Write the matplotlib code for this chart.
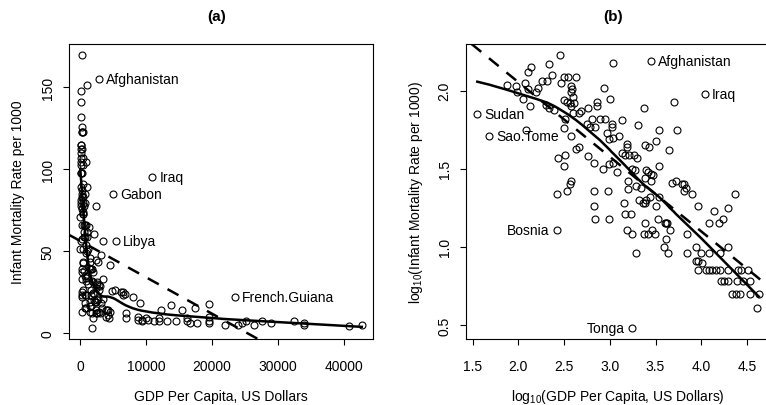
import numpy as np
import matplotlib
matplotlib.use("Agg")
import matplotlib.pyplot as plt

plt.rcParams['font.family'] = ['Liberation Sans', 'DejaVu Sans']
plt.rcParams['mathtext.fontset'] = 'custom'
plt.rcParams['mathtext.rm'] = 'Liberation Sans'
plt.rcParams['mathtext.it'] = 'Liberation Sans:italic'

# data: log10 GDP per capita and log10 infant mortality
# labelled countries come first
labelled = ["Afghanistan", "Iraq", "Gabon", "Libya", "French.Guiana",
            "Sudan", "Sao.Tome", "Bosnia", "Tonga"]
log_gdp = [3.45, 4.04, 3.70, 3.74, 4.37, 1.55, 1.68, 2.42, 3.24,
           2.46, 2.34, 2.14, 2.11, 2.37, 2.26, 2.31, 2.07, 1.88, 1.97,
           2.21, 2.10, 1.98, 2.19, 2.05, 2.13, 2.30, 2.33, 2.39, 2.47,
           2.50, 2.54, 2.63, 2.58, 2.59, 2.57, 2.60, 2.50, 2.53, 2.56,
           2.58, 2.61, 2.51, 2.50, 2.51, 2.50, 2.43, 2.42, 2.53, 2.56,
           2.58, 2.58, 2.60, 2.63, 2.66, 2.66, 2.69, 2.76, 2.75, 2.78,
           2.80, 2.84, 2.86, 2.86, 2.89, 2.95, 2.94, 3.00, 2.97, 2.99,
           3.02, 3.02, 3.03, 3.04, 2.76, 2.83, 2.93, 2.99, 3.04, 3.08,
           3.10, 3.13, 3.19, 3.19, 3.13, 3.17, 3.21, 3.27, 3.30, 3.31,
           3.37, 3.34, 3.39, 3.40, 3.42, 3.45, 3.47, 3.39, 3.43, 3.50,
           3.54, 3.54, 3.65, 3.68, 3.72, 3.79, 3.81, 3.83, 3.81, 3.90,
           3.96, 4.09, 4.14, 4.19, 4.24, 4.29, 4.29, 3.84, 3.84, 3.94,
           4.00, 3.97, 3.94, 4.01, 3.97, 4.05, 4.08, 4.12, 4.16, 4.21,
           4.29, 4.40, 4.44, 4.51, 4.08, 4.21, 4.22, 4.25, 4.29, 4.39,
           4.46, 4.53, 4.34, 4.38, 4.42, 4.53, 4.63, 4.61, 2.83, 2.83,
           2.84, 2.99, 2.98, 3.16, 3.17, 3.23, 3.20, 3.20, 3.19, 3.24,
           3.29, 3.32, 3.36, 3.38, 3.40, 3.39, 3.37, 3.42, 3.46, 3.49,
           3.50, 3.53, 3.54, 3.60, 3.61, 3.63, 3.66, 3.62, 3.59, 3.64,
           3.24, 3.28, 3.44, 3.29, 3.45, 2.08]
log_imr = [2.19, 1.98, 1.93, 1.75, 1.34, 1.85, 1.71, 1.11, 0.48,
           2.23, 2.17, 2.15, 2.12, 2.10, 2.06, 2.06, 2.05, 2.04, 2.03,
           2.02, 2.01, 1.99, 1.99, 1.95, 1.90, 1.91, 1.89, 1.88, 2.05,
           2.09, 2.09, 2.09, 2.03, 2.01, 1.99, 1.96, 1.94, 1.93, 1.92,
           1.90, 1.92, 1.82, 1.76, 1.59, 1.52, 1.57, 1.34, 1.36, 1.40,
           1.42, 1.71, 1.86, 1.63, 1.64, 1.86, 1.87, 1.89, 1.79, 1.77,
           1.82, 1.77, 1.93, 1.90, 1.82, 1.82, 2.02, 1.95, 1.73, 1.69,
           1.77, 1.79, 1.70, 2.18, 1.58, 1.54, 1.50, 1.53, 1.54, 1.48,
           1.71, 1.81, 1.66, 1.64, 1.60, 1.59, 1.59, 1.59, 1.57, 1.78,
           1.89, 1.38, 1.44, 1.49, 1.48, 1.47, 1.46, 1.65, 1.64, 1.68,
           1.75, 1.52, 1.62, 1.41, 1.42, 1.40, 1.40, 1.38, 1.36, 1.34,
           1.26, 1.15, 1.23, 1.15, 1.18, 1.25, 1.00, 1.08, 0.96, 1.00,
           0.96, 0.91, 0.91, 0.90, 0.85, 0.85, 0.85, 0.85, 0.85, 0.85,
           0.85, 0.85, 0.85, 0.85, 0.96, 0.96, 0.78, 0.78, 0.78, 0.78,
           0.78, 0.78, 0.70, 0.70, 0.70, 0.70, 0.70, 0.61, 1.36, 1.26,
           1.18, 1.18, 1.36, 1.28, 1.21, 1.21, 1.42, 1.37, 1.11, 1.08,
           0.96, 1.30, 1.28, 1.28, 1.30, 1.15, 1.08, 1.08, 1.11, 1.08,
           1.26, 1.18, 1.32, 1.15, 1.15, 1.15, 1.11, 1.05, 1.00, 0.96,
           1.50, 1.49, 1.32, 1.39, 1.42, 1.75]

labels_a = ["Afghanistan", "Iraq", "Gabon", "Libya", "French.Guiana"]
labels_b_right = ["Afghanistan", "Iraq", "Sudan", "Sao.Tome"]
labels_b_left = ["Bosnia", "Tonga"]

lx = np.array(log_gdp)
ly = np.array(log_imr)
gdp = 10 ** lx
imr = 10 ** ly


def lowess(x, y, f=2/3, iters=3):
    # plain R-style lowess (local linear, tricube, bisquare robustness)
    order = np.argsort(x)
    x = x[order]
    y = y[order]
    n = len(x)
    r = int(np.ceil(f * n))
    rob = np.ones(n)
    fit = np.zeros(n)
    for it in range(iters + 1):
        for i in range(n):
            d = np.abs(x - x[i])
            h = max(np.sort(d)[r - 1], 1e-12)
            u = np.clip(d / h, 0, 1)
            w = (1 - u ** 3) ** 3 * rob
            sw = w.sum()
            xm = (w * x).sum() / sw
            ym = (w * y).sum() / sw
            sxx = (w * (x - xm) ** 2).sum()
            if sxx > 1e-12:
                b = (w * (x - xm) * (y - ym)).sum() / sxx
            else:
                b = 0
            fit[i] = ym + b * (x[i] - xm)
        res = y - fit
        s = np.median(np.abs(res))
        rob = np.clip(1 - (res / (6 * s)) ** 2, 0, 1) ** 2
    return x, fit


def r_lims(v):
    lo, hi = v.min(), v.max()
    pad = 0.04 * (hi - lo)
    return lo - pad, hi + pad


pt = dict(marker='o', linestyle='none', mfc='none', mec='black', ms=5, mew=0.8)

fig = plt.figure(figsize=(7.66, 4.06), dpi=100)
ax1 = fig.add_axes([0.0901, 0.1626, 0.3969, 0.7266])
ax2 = fig.add_axes([0.6084, 0.1626, 0.3969, 0.7266])

# panel (a)
ax1.plot(gdp, imr, **pt)
m, b = np.polyfit(gdp, imr, 1)
ax1.axline((0, b), slope=m, color='black', lw=1.8, linestyle=(0, (5, 4)))
sx, sy = lowess(gdp, imr, f=0.5)
ax1.plot(sx, sy, color='black', lw=1.8)
for name in labels_a:
    i = labelled.index(name)
    ax1.annotate(name, (gdp[i], imr[i]), xytext=(5, 0), textcoords='offset points',
                 ha='left', va='center', fontsize=10)
ax1.set_xlim(r_lims(gdp))
ax1.set_ylim(r_lims(imr))
ax1.set_xticks([0, 10000, 20000, 30000, 40000])
ax1.set_yticks([0, 50, 100, 150])
ax1.set_xlabel("GDP Per Capita, US Dollars", fontsize=10)
ax1.set_ylabel("Infant Mortality Rate per 1000", fontsize=10)
ax1.xaxis.set_label_coords(0.5, -0.193)
ax1.yaxis.set_label_coords(-0.168, 0.5)
ax1.text(0.485, 1.095, "(a)", transform=ax1.transAxes, ha='center', va='center',
         fontsize=11, fontweight='bold')

# panel (b)
ax2.plot(lx, ly, **pt)
m2, b2 = np.polyfit(lx, ly, 1)
ax2.axline((0, b2), slope=m2, color='black', lw=1.8, linestyle=(0, (5, 4)))
sx2, sy2 = lowess(lx, ly, f=0.5)
ax2.plot(sx2, sy2, color='black', lw=1.8)
for name in labels_b_right:
    i = labelled.index(name)
    ax2.annotate(name, (lx[i], ly[i]), xytext=(5, 0), textcoords='offset points',
                 ha='left', va='center', fontsize=10)
for name in labels_b_left:
    i = labelled.index(name)
    ax2.annotate(name, (lx[i], ly[i]), xytext=(-5, 0), textcoords='offset points',
                 ha='right', va='center', fontsize=10)
ax2.set_xlim(r_lims(lx))
ax2.set_ylim(r_lims(ly))
ax2.set_xticks([1.5, 2.0, 2.5, 3.0, 3.5, 4.0, 4.5])
ax2.set_yticks([0.5, 1.0, 1.5, 2.0])
ax2.set_xlabel(r"log$_{10}$(GDP Per Capita, US Dollars)", fontsize=10)
ax2.set_ylabel(r"log$_{10}$(Infant Mortality Rate per 1000)", fontsize=10)
ax2.xaxis.set_label_coords(0.5, -0.193)
ax2.yaxis.set_label_coords(-0.164, 0.5)
ax2.text(0.485, 1.095, "(b)", transform=ax2.transAxes, ha='center', va='center',
         fontsize=11, fontweight='bold')

for ax in (ax1, ax2):
    ax.xaxis.label.set_verticalalignment('center')
    ax.yaxis.label.set_verticalalignment('center')
    ax.tick_params(direction='out', length=4.3, width=0.8, labelsize=10)
    ax.tick_params(axis='x', pad=10)
    ax.tick_params(axis='y', pad=6)
    for lab in ax.get_yticklabels():
        lab.set_rotation(90)
        lab.set_va('center')
    for sp in ax.spines.values():
        sp.set_linewidth(0.8)

fig.savefig("out.png", dpi=100)
